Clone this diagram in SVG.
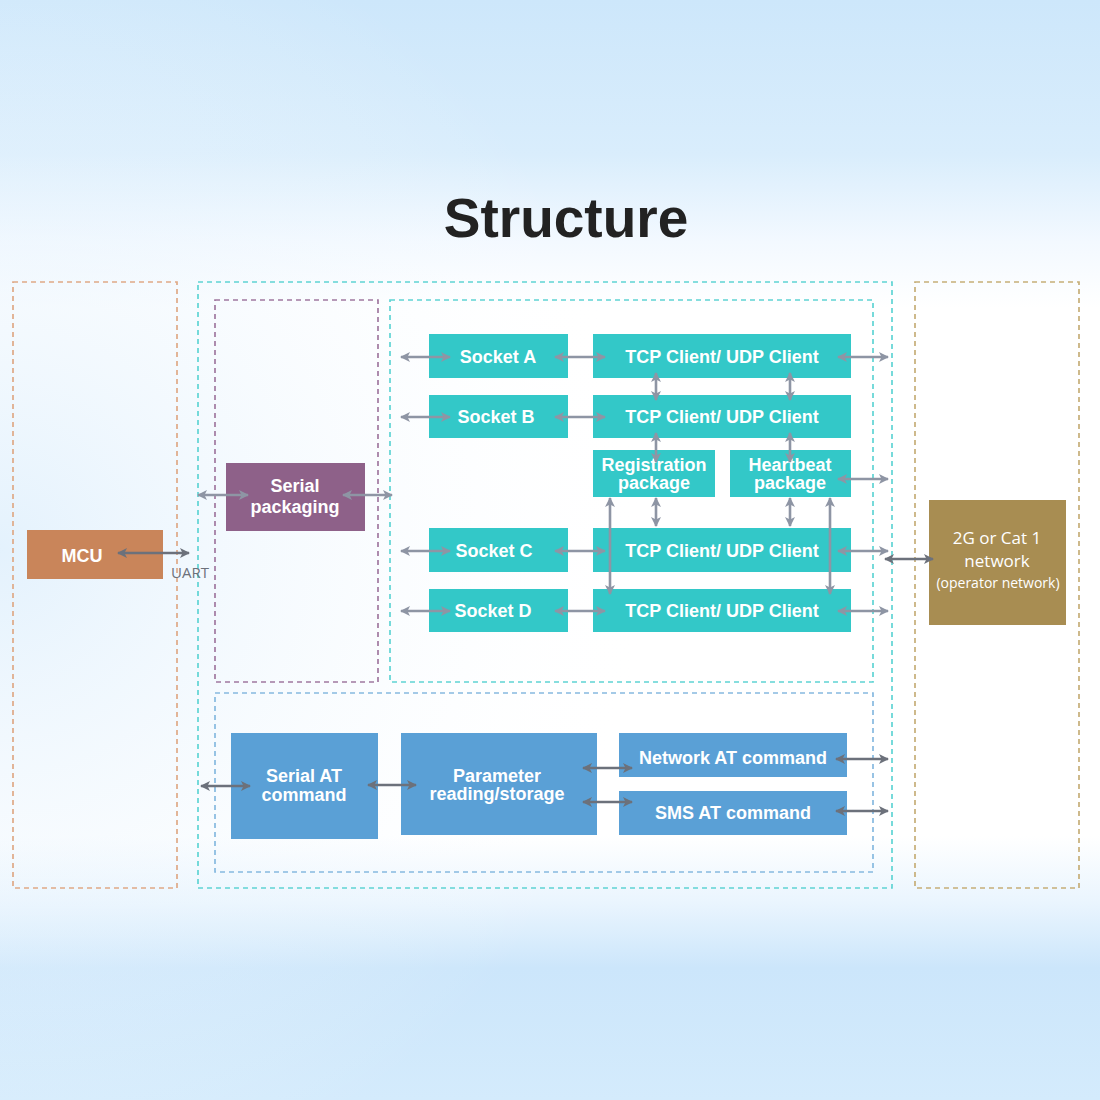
<svg xmlns="http://www.w3.org/2000/svg" width="1100" height="1100" viewBox="0 0 1100 1100">
<defs>
<linearGradient id="bg" x1="0" y1="0" x2="0" y2="1">
<stop offset="0" stop-color="#cde7fb"/>
<stop offset="0.14" stop-color="#d9edfc"/>
<stop offset="0.22" stop-color="#f3f9ff"/>
<stop offset="0.28" stop-color="#ffffff"/>
<stop offset="0.76" stop-color="#ffffff"/>
<stop offset="0.82" stop-color="#eaf5fe"/>
<stop offset="0.88" stop-color="#cce6fb"/>
<stop offset="1" stop-color="#d4ebfc"/>
</linearGradient>
<radialGradient id="side" cx="0" cy="0.5" r="0.6">
<stop offset="0" stop-color="#d8ecfc" stop-opacity="0.7"/>
<stop offset="1" stop-color="#ffffff" stop-opacity="0"/>
</radialGradient>
<marker id="ah" viewBox="0 0 10 10" refX="9" refY="5" markerWidth="13" markerHeight="10" markerUnits="userSpaceOnUse" orient="auto-start-reverse">
<path d="M0,0 L10,5 L0,10 L2.5,5 Z" fill="#8e95a4"/>
</marker>
<marker id="ahd" viewBox="0 0 10 10" refX="9" refY="5" markerWidth="13" markerHeight="10" markerUnits="userSpaceOnUse" orient="auto-start-reverse">
<path d="M0,0 L10,5 L0,10 L2.5,5 Z" fill="#6c717b"/>
</marker>
<style>
.t{font-family:"Liberation Sans",Arial,sans-serif;font-weight:bold;fill:#ffffff;text-anchor:middle}
.n{font-family:"Open Sans","Liberation Sans",sans-serif;fill:#ffffff;text-anchor:middle}
.dash{fill:none;stroke-width:1.7;stroke-dasharray:5 4}
.teal{fill:#33c8c8}
.blue{fill:#5aa0d6}
.a{stroke:#8e95a4;stroke-width:2.6;fill:none;marker-start:url(#ah);marker-end:url(#ah)}
.ad{stroke:#6c717b;stroke-width:2.6;fill:none;marker-start:url(#ahd);marker-end:url(#ahd)}
</style>
</defs>
<rect x="0" y="0" width="1100" height="1100" fill="url(#bg)"/>
<rect x="0" y="0" width="1100" height="1100" fill="url(#side)"/>
<text x="566" y="237" font-family="Liberation Sans,Arial,sans-serif" font-weight="bold" font-size="55" fill="#222222" text-anchor="middle">Structure</text>

<g id="containers">
<rect class="dash" x="13" y="282" width="164" height="606" stroke="#dfa986"/>
<rect class="dash" x="198" y="282" width="694" height="606" stroke="#5fd4d4"/>
<rect class="dash" x="215" y="300" width="163" height="382" stroke="#a078a0"/>
<rect class="dash" x="390" y="300" width="483" height="382" stroke="#5fd4d4"/>
<rect class="dash" x="215" y="693" width="658" height="179" stroke="#86b9e0"/>
<rect class="dash" x="915" y="282" width="164" height="606" stroke="#c6ae78"/>
</g>

<g id="mcu"><rect x="27" y="530" width="136" height="49" fill="#c9855a"/><text class="t" x="82" y="562" font-size="18">MCU</text></g>
<g id="serial-packaging"><rect x="226" y="463" width="139" height="68" fill="#8e6189"/><text class="t" x="295" y="492" font-size="18">Serial</text><text class="t" x="295" y="513" font-size="18">packaging</text></g>
<g id="socket-a"><rect class="teal" x="429" y="334" width="139" height="44"/><text class="t" x="498" y="363" font-size="18">Socket A</text></g>
<g id="tcp-a"><rect class="teal" x="593" y="334" width="258" height="44"/><text class="t" x="722" y="363" font-size="18">TCP Client/ UDP Client</text></g>
<g id="socket-b"><rect class="teal" x="429" y="395" width="139" height="43"/><text class="t" x="496" y="423" font-size="18">Socket B</text></g>
<g id="tcp-b"><rect class="teal" x="593" y="395" width="258" height="43"/><text class="t" x="722" y="423" font-size="18">TCP Client/ UDP Client</text></g>
<g id="registration"><rect class="teal" x="593" y="450" width="122" height="47"/><text class="t" x="654" y="471" font-size="18">Registration</text><text class="t" x="654" y="489" font-size="18">package</text></g>
<g id="heartbeat"><rect class="teal" x="730" y="450" width="121" height="47"/><text class="t" x="790" y="471" font-size="18">Heartbeat</text><text class="t" x="790" y="489" font-size="18">package</text></g>
<g id="socket-c"><rect class="teal" x="429" y="528" width="139" height="44"/><text class="t" x="494" y="557" font-size="18">Socket C</text></g>
<g id="tcp-c"><rect class="teal" x="593" y="528" width="258" height="44"/><text class="t" x="722" y="557" font-size="18">TCP Client/ UDP Client</text></g>
<g id="socket-d"><rect class="teal" x="429" y="589" width="139" height="43"/><text class="t" x="493" y="617" font-size="18">Socket D</text></g>
<g id="tcp-d"><rect class="teal" x="593" y="589" width="258" height="43"/><text class="t" x="722" y="617" font-size="18">TCP Client/ UDP Client</text></g>
<g id="network-2g"><rect x="929" y="500" width="137" height="125" fill="#a88d52"/><text class="n" x="997" y="544" font-size="17">2G or Cat 1</text><text class="n" x="997" y="567" font-size="17">network</text><text class="n" x="998" y="588" font-size="14">(operator network)</text></g>
<g id="serial-at"><rect class="blue" x="231" y="733" width="147" height="106"/><text class="t" x="304" y="782" font-size="18">Serial AT</text><text class="t" x="304" y="801" font-size="18">command</text></g>
<g id="param"><rect class="blue" x="401" y="733" width="196" height="102"/><text class="t" x="497" y="782" font-size="18">Parameter</text><text class="t" x="497" y="800" font-size="18">reading/storage</text></g>
<g id="network-at"><rect class="blue" x="619" y="733" width="228" height="44"/><text class="t" x="733" y="764" font-size="18">Network AT command</text></g>
<g id="sms-at"><rect class="blue" x="619" y="791" width="228" height="44"/><text class="t" x="733" y="819" font-size="18">SMS AT command</text></g>

<text x="190" y="578" font-family="Open Sans,Liberation Sans,sans-serif" font-size="15" fill="#6c717b" text-anchor="middle">UART</text>

<g id="connectors">
<line class="ad" x1="118" y1="553" x2="189" y2="553"/>
<line class="a" x1="198" y1="495" x2="248" y2="495"/>
<line class="a" x1="343" y1="495" x2="392" y2="495"/>
<line class="a" x1="401" y1="357" x2="450" y2="357"/>
<line class="a" x1="555" y1="357" x2="605" y2="357"/>
<line class="a" x1="838" y1="357" x2="888" y2="357"/>
<line class="a" x1="401" y1="417" x2="450" y2="417"/>
<line class="a" x1="555" y1="417" x2="605" y2="417"/>
<line class="a" x1="656" y1="373" x2="656" y2="400"/>
<line class="a" x1="790" y1="373" x2="790" y2="400"/>
<line class="a" x1="656" y1="433" x2="656" y2="462"/>
<line class="a" x1="790" y1="433" x2="790" y2="462"/>
<line class="a" x1="838" y1="479" x2="888" y2="479"/>
<line class="a" x1="656" y1="498" x2="656" y2="526"/>
<line class="a" x1="790" y1="498" x2="790" y2="526"/>
<line class="a" x1="610" y1="498" x2="610" y2="594"/>
<line class="a" x1="830" y1="498" x2="830" y2="594"/>
<line class="a" x1="401" y1="551" x2="450" y2="551"/>
<line class="a" x1="555" y1="551" x2="605" y2="551"/>
<line class="a" x1="838" y1="551" x2="888" y2="551"/>
<line class="a" x1="401" y1="611" x2="450" y2="611"/>
<line class="a" x1="555" y1="611" x2="605" y2="611"/>
<line class="a" x1="838" y1="611" x2="888" y2="611"/>
<line class="ad" x1="885" y1="559" x2="933" y2="559"/>
<line class="ad" x1="201" y1="786" x2="250" y2="786"/>
<line class="ad" x1="368" y1="785" x2="416" y2="785"/>
<line class="ad" x1="583" y1="768" x2="632" y2="768"/>
<line class="ad" x1="583" y1="802" x2="632" y2="802"/>
<line class="ad" x1="836" y1="759" x2="888" y2="759"/>
<line class="ad" x1="836" y1="811" x2="888" y2="811"/>
</g>
</svg>
